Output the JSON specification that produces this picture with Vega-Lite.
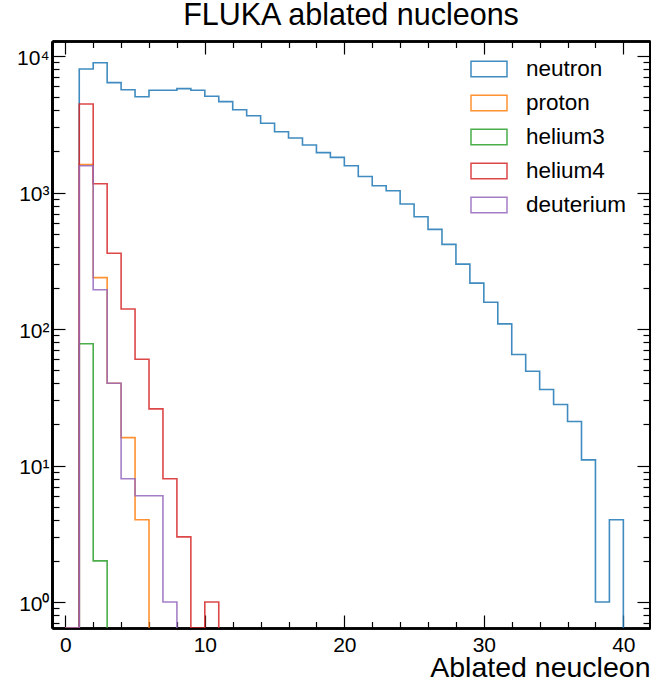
{
  "$schema": "https://vega.github.io/schema/vega-lite/v6.json",
  "width": 598,
  "height": 587,
  "autosize": {"type": "none"},
  "padding": {"left": 52, "top": 41, "right": 1, "bottom": 58},
  "title": {"text": "FLUKA ablated nucleons", "fontSize": 30.5, "fontWeight": "normal", "color": "black", "font": "Liberation Sans", "anchor": "middle", "baseline": "alphabetic", "offset": -15.5},
  "config": {
    "view": {"stroke": null},
    "font": "Liberation Sans",
    "axis": {"grid": false, "domainColor": "black", "domainWidth": 2.7, "tickColor": "black", "tickWidth": 1.2, "labelColor": "black", "titleColor": "black", "zindex": 1}
  },
  "data": {"values": [
    {"s": "neutron", "x": 0, "n": 0}, {"s": "neutron", "x": 1, "n": 8040}, {"s": "neutron", "x": 2, "n": 8930}, {"s": "neutron", "x": 3, "n": 6380}, {"s": "neutron", "x": 4, "n": 5660}, {"s": "neutron", "x": 5, "n": 5030}, {"s": "neutron", "x": 6, "n": 5610}, {"s": "neutron", "x": 7, "n": 5610}, {"s": "neutron", "x": 8, "n": 5770}, {"s": "neutron", "x": 9, "n": 5610}, {"s": "neutron", "x": 10, "n": 5070}, {"s": "neutron", "x": 11, "n": 4630}, {"s": "neutron", "x": 12, "n": 4040}, {"s": "neutron", "x": 13, "n": 3650}, {"s": "neutron", "x": 14, "n": 3220}, {"s": "neutron", "x": 15, "n": 2790}, {"s": "neutron", "x": 16, "n": 2510}, {"s": "neutron", "x": 17, "n": 2230}, {"s": "neutron", "x": 18, "n": 1960}, {"s": "neutron", "x": 19, "n": 1810}, {"s": "neutron", "x": 20, "n": 1570}, {"s": "neutron", "x": 21, "n": 1310}, {"s": "neutron", "x": 22, "n": 1120}, {"s": "neutron", "x": 23, "n": 1030}, {"s": "neutron", "x": 24, "n": 824}, {"s": "neutron", "x": 25, "n": 665}, {"s": "neutron", "x": 26, "n": 537}, {"s": "neutron", "x": 27, "n": 417}, {"s": "neutron", "x": 28, "n": 299}, {"s": "neutron", "x": 29, "n": 217}, {"s": "neutron", "x": 30, "n": 157}, {"s": "neutron", "x": 31, "n": 109}, {"s": "neutron", "x": 32, "n": 65}, {"s": "neutron", "x": 33, "n": 49}, {"s": "neutron", "x": 34, "n": 36}, {"s": "neutron", "x": 35, "n": 28}, {"s": "neutron", "x": 36, "n": 21}, {"s": "neutron", "x": 37, "n": 11}, {"s": "neutron", "x": 38, "n": 1}, {"s": "neutron", "x": 39, "n": 4}, {"s": "neutron", "x": 40, "n": 0},
    {"s": "proton", "x": 0, "n": 0}, {"s": "proton", "x": 1, "n": 1600}, {"s": "proton", "x": 2, "n": 238}, {"s": "proton", "x": 3, "n": 40}, {"s": "proton", "x": 4, "n": 16}, {"s": "proton", "x": 5, "n": 4}, {"s": "proton", "x": 6, "n": 0},
    {"s": "helium3", "x": 0, "n": 0}, {"s": "helium3", "x": 1, "n": 78}, {"s": "helium3", "x": 2, "n": 2}, {"s": "helium3", "x": 3, "n": 0},
    {"s": "helium4", "x": 0, "n": 0}, {"s": "helium4", "x": 1, "n": 4450}, {"s": "helium4", "x": 2, "n": 1160}, {"s": "helium4", "x": 3, "n": 359}, {"s": "helium4", "x": 4, "n": 140}, {"s": "helium4", "x": 5, "n": 60}, {"s": "helium4", "x": 6, "n": 26}, {"s": "helium4", "x": 7, "n": 8}, {"s": "helium4", "x": 8, "n": 3}, {"s": "helium4", "x": 9, "n": 0}, {"s": "helium4", "x": 10, "n": 1}, {"s": "helium4", "x": 11, "n": 0},
    {"s": "deuterium", "x": 0, "n": 0}, {"s": "deuterium", "x": 1, "n": 1570}, {"s": "deuterium", "x": 2, "n": 194}, {"s": "deuterium", "x": 3, "n": 40}, {"s": "deuterium", "x": 4, "n": 8}, {"s": "deuterium", "x": 5, "n": 6}, {"s": "deuterium", "x": 6, "n": 6}, {"s": "deuterium", "x": 7, "n": 1}, {"s": "deuterium", "x": 8, "n": 0}
  ]},
  "layer": [
    {
      "mark": {"type": "line", "interpolate": "step-after", "strokeWidth": 1.6, "strokeOpacity": 0.85, "clip": true, "invalid": "show"},
      "encoding": {
        "x": {"field": "x", "type": "quantitative",
          "scale": {"domain": [-0.953, 41.91], "nice": false, "zero": false},
          "axis": {"orient": "bottom", "values": [0, 10, 20, 30, 40], "tickSize": -13, "labelFontSize": 21, "labelPadding": 19, "labelFlush": false,
            "title": "Ablated neucleon", "titleFontSize": 28.5, "titleFontWeight": "normal", "titleAnchor": "end", "titleAlign": "right", "titleBaseline": "alphabetic", "titleY": 48.4}},
        "y": {"field": "n", "type": "quantitative",
          "scale": {"type": "log", "domain": [0.645, 12880], "nice": false, "clamp": true},
          "axis": {"orient": "left", "values": [1, 10, 100, 1000, 10000], "tickSize": -13, "labelFontSize": 21, "labelPadding": 16, "labelOffset": 2, "title": null,
            "labelExpr": "datum.value >= 10000 ? '10⁴' : datum.value >= 1000 ? '10³' : datum.value >= 100 ? '10²' : datum.value >= 10 ? '10¹' : '10⁰'"}},
        "color": {"field": "s", "type": "nominal",
          "scale": {"domain": ["neutron", "proton", "helium3", "helium4", "deuterium"], "range": ["#1f77b4", "#ff7f0e", "#2ca02c", "#d62728", "#9467bd"]},
          "legend": {"orient": "none", "legendX": 424, "legendY": 15, "title": null, "padding": 0, "labelFontSize": 22.5, "labelColor": "black", "labelOffset": 24, "rowPadding": 9,
            "symbolType": "M-1.5,-0.65H1.5V0.65H-1.5Z", "symbolSize": 576, "symbolStrokeWidth": 1.5, "symbolFillColor": "transparent", "symbolOpacity": 0.85}}
      }
    },
    {
      "mark": {"type": "point", "opacity": 0},
      "encoding": {
        "x": {"field": "x", "type": "quantitative", "scale": {"domain": [-0.953, 41.91], "nice": false, "zero": false},
          "axis": {"orient": "bottom", "values": [2, 4, 6, 8, 12, 14, 16, 18, 22, 24, 26, 28, 32, 34, 36, 38], "tickSize": -6.5, "labels": false, "title": null}},
        "y": {"field": "n", "type": "quantitative", "scale": {"type": "log", "domain": [0.645, 12880], "nice": false, "clamp": true},
          "axis": {"orient": "left", "values": [0.7, 0.8, 0.9, 2, 3, 4, 5, 6, 7, 8, 9, 20, 30, 40, 50, 60, 70, 80, 90, 200, 300, 400, 500, 600, 700, 800, 900, 2000, 3000, 4000, 5000, 6000, 7000, 8000, 9000], "tickSize": -7, "labels": false, "title": null}}
      }
    },
    {
      "mark": {"type": "point", "opacity": 0},
      "encoding": {
        "x": {"field": "x", "type": "quantitative", "scale": {"domain": [-0.953, 41.91], "nice": false, "zero": false},
          "axis": {"orient": "top", "values": [0, 10, 20, 30, 40], "tickSize": -13, "labels": false, "title": null}},
        "y": {"field": "n", "type": "quantitative", "scale": {"type": "log", "domain": [0.645, 12880], "nice": false, "clamp": true},
          "axis": {"orient": "right", "values": [1, 10, 100, 1000, 10000], "tickSize": -13, "labels": false, "title": null}}
      }
    },
    {
      "mark": {"type": "point", "opacity": 0},
      "encoding": {
        "x": {"field": "x", "type": "quantitative", "scale": {"domain": [-0.953, 41.91], "nice": false, "zero": false},
          "axis": {"orient": "top", "values": [2, 4, 6, 8, 12, 14, 16, 18, 22, 24, 26, 28, 32, 34, 36, 38], "tickSize": -6.5, "labels": false, "title": null}},
        "y": {"field": "n", "type": "quantitative", "scale": {"type": "log", "domain": [0.645, 12880], "nice": false, "clamp": true},
          "axis": {"orient": "right", "values": [0.7, 0.8, 0.9, 2, 3, 4, 5, 6, 7, 8, 9, 20, 30, 40, 50, 60, 70, 80, 90, 200, 300, 400, 500, 600, 700, 800, 900, 2000, 3000, 4000, 5000, 6000, 7000, 8000, 9000], "tickSize": -7, "labels": false, "title": null}}
      }
    }
  ],
  "resolve": {"axis": {"x": "independent", "y": "independent"}}
}
